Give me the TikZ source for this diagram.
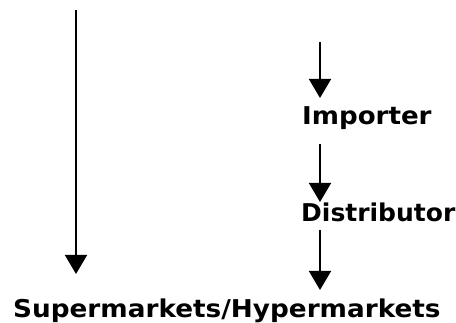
\documentclass[tikz,border=0pt]{standalone}
\usepackage{fontspec}
\setmainfont{DejaVu Sans}
\usetikzlibrary{arrows.meta}
\begin{document}
\begin{tikzpicture}[x=1pt,y=-1pt,
  lbl/.style={anchor=base west,inner sep=0pt,font=\fontsize{24.5}{28}\selectfont\bfseries},
  flow/.style={line width=1.6pt,-{Triangle[width=22pt,length=19pt]}}]
\useasboundingbox (0,0) rectangle (456,323);
\node[lbl] (imp) at (302,125) {\scalebox{1.065}[1]{Importer}};
\node[lbl] (dis) at (301,222) {\scalebox{1.02}[1]{Distributor}};
\node[lbl] (sup) at (13,318) {\scalebox{1.073}[1]{Supermarkets/Hypermarkets}};
\coordinate (l0) at (76,10);
\coordinate (l1) at (76,274);
\coordinate (a0) at (320,42);
\coordinate (a1) at (320,98);
\coordinate (b0) at (320,144);
\coordinate (b1) at (320,202);
\coordinate (c0) at (320,230);
\coordinate (c1) at (320,290);
\draw[flow] (l0) -- (l1);
\draw[flow] (a0) -- (a1);
\draw[flow] (b0) -- (b1);
\draw[flow] (c0) -- (c1);
\end{tikzpicture}
\end{document}
